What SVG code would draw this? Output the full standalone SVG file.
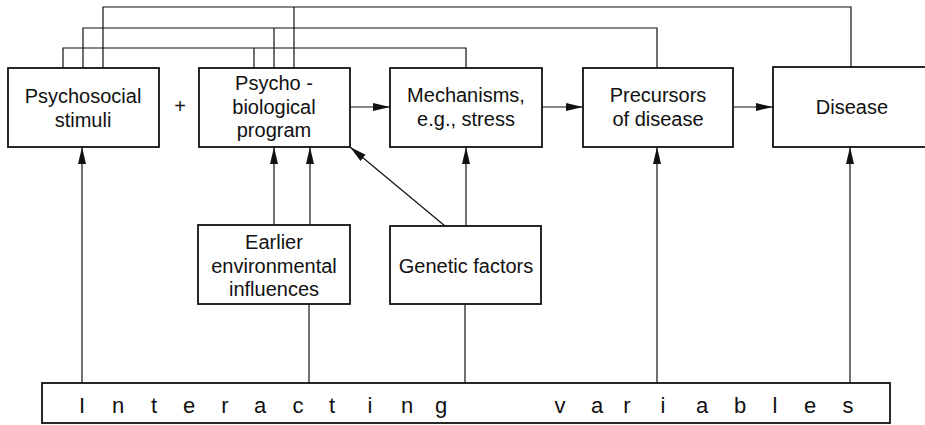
<svg xmlns="http://www.w3.org/2000/svg" width="925" height="425" viewBox="0 0 925 425">
  <style>
    .box { fill: #fff; stroke: #111; stroke-width: 1.8; }
    .lbl { font-family: "Liberation Sans", Arial, sans-serif; font-size: 20px; fill: #111; text-anchor: middle; }
    .sp { font-family: "Liberation Sans", Arial, sans-serif; font-size: 22px; fill: #111; text-anchor: middle; }
    .ln { fill: none; stroke: #111; stroke-width: 1.2; }
    .arr { fill: none; stroke: #111; stroke-width: 1.2; marker-end: url(#head); }
  </style>
  <defs>
    <marker id="head" viewBox="0 0 17 9" refX="17" refY="4.5" markerWidth="17" markerHeight="9" markerUnits="userSpaceOnUse" orient="auto">
      <path d="M0,0.5 L17,4.5 L0,8.5 Z" fill="#111"/>
    </marker>
  </defs>
  <rect width="925" height="425" fill="#fff"/>

  <g id="connectors">
    <!-- feedback lines over the top -->
    <path class="ln" d="M63,68 V48 H466 V68"/>
    <path class="ln" d="M83,68 V28 H657 V68"/>
    <path class="ln" d="M103,68 V7 H851 V68"/>
    <path class="ln" d="M254,68 V48"/>
    <path class="ln" d="M274,68 V28"/>
    <path class="ln" d="M294,68 V7"/>
    <!-- main chain -->
    <path class="arr" d="M350,107 H390"/>
    <path class="arr" d="M542,107 H583"/>
    <path class="arr" d="M733,107 H773"/>
    <!-- earlier influences and genetics -->
    <path class="arr" d="M274,225 V147"/>
    <path class="arr" d="M310,225 V147"/>
    <path class="arr" d="M445,226 L350,147"/>
    <path class="arr" d="M466,226 V147"/>
    <!-- interacting variables -->
    <path class="arr" d="M82,383 V147"/>
    <path class="ln" d="M309,383 V304"/>
    <path class="ln" d="M465,383 V304"/>
    <path class="arr" d="M657,383 V147"/>
    <path class="arr" d="M850,383 V147"/>
  </g>

  <g id="psychosocial">
    <rect class="box" x="8" y="68" width="151" height="79"/>
    <text class="lbl" x="83" y="103">Psychosocial</text>
    <text class="lbl" x="83" y="127">stimuli</text>
  </g>
  <text class="lbl" x="180" y="113">+</text>

  <g id="psychobiological">
    <rect class="box" x="199" y="68" width="151" height="79"/>
    <text class="lbl" x="274" y="90">Psycho -</text>
    <text class="lbl" x="274" y="114">biological</text>
    <text class="lbl" x="274" y="137">program</text>
  </g>

  <g id="mechanisms">
    <rect class="box" x="390" y="68" width="152" height="79"/>
    <text class="lbl" x="466" y="102">Mechanisms,</text>
    <text class="lbl" x="466" y="126">e.g., stress</text>
  </g>

  <g id="precursors">
    <rect class="box" x="583" y="68" width="150" height="79"/>
    <text class="lbl" x="658" y="102">Precursors</text>
    <text class="lbl" x="658" y="126">of disease</text>
  </g>

  <g id="disease">
    <rect class="box" x="773" y="67" width="170" height="80"/>
    <text class="lbl" x="852" y="114">Disease</text>
  </g>

  <g id="earlier">
    <rect class="box" x="198" y="225" width="152" height="79"/>
    <text class="lbl" x="274" y="249">Earlier</text>
    <text class="lbl" x="274" y="273">environmental</text>
    <text class="lbl" x="274" y="296">influences</text>
  </g>

  <g id="genetic">
    <rect class="box" x="390" y="226" width="151" height="78"/>
    <text class="lbl" x="466" y="273">Genetic factors</text>
  </g>

  <g id="interacting">
    <rect class="box" x="42" y="383" width="848" height="40"/>
    <text class="sp" x="82 118 154 189 225 260 298 332 370 407 441" y="413">Interacting</text>
    <text class="sp" x="560 597 627 663 702 740 775 810 848" y="413">variables</text>
  </g>
</svg>
